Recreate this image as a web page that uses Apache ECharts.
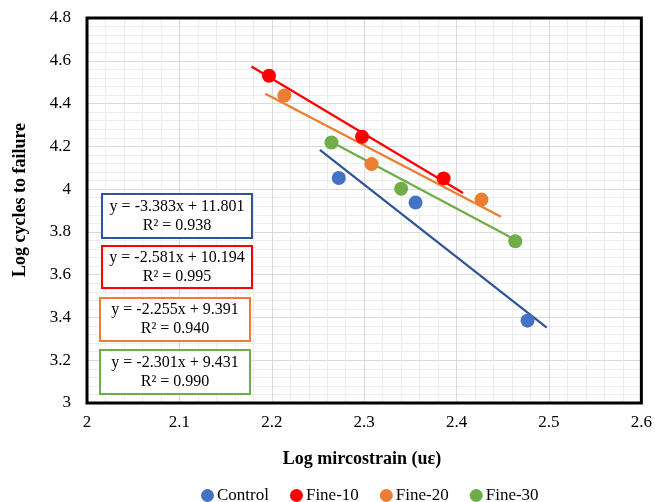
<!DOCTYPE html>
<html>
<head>
<meta charset="utf-8">
<script src="https://cdn.jsdelivr.net/npm/echarts@6/dist/echarts.min.js"></script>
<style>html,body{margin:0;padding:0;background:#fff}#c{width:655px;height:502px}</style>
</head>
<body>
<div id="c"></div>
<script>
// ---- data ----
const seriesNames = ['Control', 'Fine-10', 'Fine-20', 'Fine-30'];
const controlX = [2.2725, 2.3556, 2.4768];
const controlY = [4.052, 3.937, 3.385];
const fine10X = [2.197, 2.2977, 2.386];
const fine10Y = [4.530, 4.245, 4.050];
const fine20X = [2.2136, 2.308, 2.427];
const fine20Y = [4.438, 4.117, 3.951];
const fine30X = [2.2646, 2.340, 2.4635];
const fine30Y = [4.218, 4.002, 3.756];
// trend line end points
const controlTrendX = [2.252, 2.4976];
const controlTrendY = [4.183, 3.352];
const fine10TrendX = [2.178, 2.407];
const fine10TrendY = [4.573, 3.982];
const fine20TrendX = [2.193, 2.448];
const fine20TrendY = [4.446, 3.871];
const fine30TrendX = [2.2646, 2.4635];
const fine30TrendY = [4.220, 3.763];
const equations = ['y = -3.383x + 11.801', 'y = -2.581x + 10.194', 'y = -2.255x + 9.391', 'y = -2.301x + 9.431'];
const r2Texts = ['R² = 0.938', 'R² = 0.995', 'R² = 0.940', 'R² = 0.990'];
const xTitle = 'Log mircostrain (uε)';
const yTitle = 'Log cycles to failure';

// ---- styling ----
const FONT = '"Liberation Serif", "Times New Roman", serif';
const pointColors = ['#4472C4', '#FF0000', '#ED7D31', '#70AD47'];
const lineColors = ['#2F5597', '#FF0000', '#ED7D31', '#70AD47'];
const boxes = [
  {x: 102, y: 194, w: 150, h: 44},
  {x: 102, y: 246, w: 150, h: 42},
  {x: 100, y: 298, w: 150, h: 43},
  {x: 100, y: 350, w: 150, h: 44}
];

const zip = (xs, ys) => xs.map((x, i) => [x, ys[i]]);
const pts = [zip(controlX, controlY), zip(fine10X, fine10Y), zip(fine20X, fine20Y), zip(fine30X, fine30Y)];
const trends = [zip(controlTrendX, controlTrendY), zip(fine10TrendX, fine10TrendY), zip(fine20TrendX, fine20TrendY), zip(fine30TrendX, fine30TrendY)];

const series = [];
trends.forEach((d, i) => series.push({
  type: 'line', name: seriesNames[i] + ' trend', data: d, showSymbol: false, symbol: 'none',
  lineStyle: {color: lineColors[i], width: 2.25}, z: 2, silent: true, animation: false
}));
pts.forEach((d, i) => series.push({
  type: 'scatter', name: seriesNames[i], data: d, symbolSize: 14,
  itemStyle: {color: pointColors[i], opacity: 1}, z: 3, animation: false
}));

const graphics = [];
boxes.forEach((b, i) => {
  graphics.push({type: 'rect', shape: {x: b.x, y: b.y, width: b.w, height: b.h},
    style: {fill: '#fff', stroke: lineColors[i], lineWidth: 2}, z: 10});
  graphics.push({type: 'text', x: b.x + b.w / 2, y: b.y + b.h / 2 - 9.5,
    style: {text: equations[i], font: '16px ' + FONT, fill: '#000', align: 'center', verticalAlign: 'middle'}, z: 11});
  graphics.push({type: 'text', x: b.x + b.w / 2, y: b.y + b.h / 2 + 9.5,
    style: {text: r2Texts[i], font: '16px ' + FONT, fill: '#000', align: 'center', verticalAlign: 'middle'}, z: 11});
});
graphics.push({type: 'text', x: 20, y: 200, rotation: Math.PI / 2,
  style: {text: yTitle, font: 'bold 18px ' + FONT, fill: '#000', align: 'center', verticalAlign: 'middle'}});
graphics.push({type: 'text', x: 362, y: 459,
  style: {text: xTitle, font: 'bold 18px ' + FONT, fill: '#000', align: 'center', verticalAlign: 'middle'}});

const chart = echarts.init(document.getElementById('c'), null, {renderer: 'canvas'});
chart.setOption({
  animation: false,
  backgroundColor: '#fff',
  grid: {left: 87, right: 12, top: 18, bottom: 99, show: true, borderColor: '#000', borderWidth: 3, backgroundColor: 'transparent', z: 5},
  xAxis: {
    type: 'value', min: 2, max: 2.6, interval: 0.1,
    axisLine: {show: false}, axisTick: {show: false},
    axisLabel: {color: '#000', fontFamily: FONT, fontSize: 17, margin: 11},
    splitLine: {show: true, lineStyle: {color: '#d9d9d9', width: 1}},
    minorTick: {show: false, splitNumber: 5},
    minorSplitLine: {show: true, lineStyle: {color: '#ececec', width: 1}}
  },
  yAxis: {
    type: 'value', min: 3, max: 4.8, interval: 0.2,
    axisLine: {show: false}, axisTick: {show: false},
    axisLabel: {color: '#000', fontFamily: FONT, fontSize: 17, margin: 16},
    splitLine: {show: true, lineStyle: {color: '#d9d9d9', width: 1}},
    minorTick: {show: false, splitNumber: 5},
    minorSplitLine: {show: true, lineStyle: {color: '#ececec', width: 1}}
  },
  legend: {
    data: seriesNames.map((n, i) => ({name: n, icon: 'circle', itemStyle: {color: pointColors[i]}})),
    left: 196, top: 482, itemWidth: 13, itemHeight: 13, itemGap: 21,
    textStyle: {color: '#000', fontFamily: FONT, fontSize: 17, padding: [0, 0, 0, -2]}
  },
  graphic: graphics,
  series: series
});
</script>
</body>
</html>
